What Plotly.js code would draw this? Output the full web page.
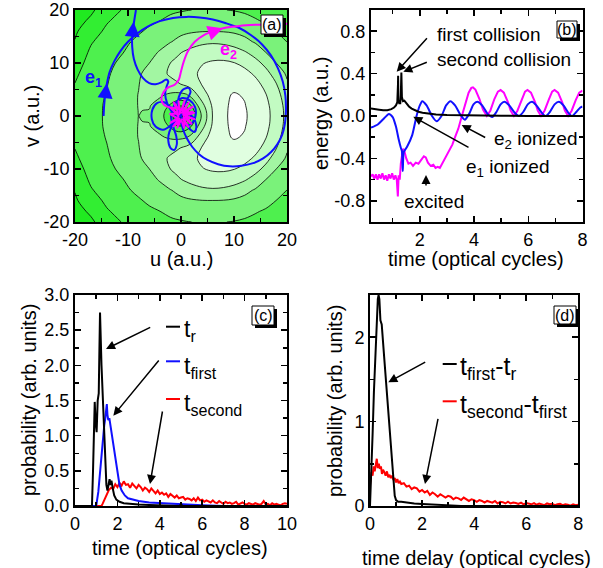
<!DOCTYPE html>
<html><head><meta charset="utf-8">
<script src="https://cdn.plot.ly/plotly-3.0.1.min.js"></script>
<style>html,body{margin:0;padding:0;background:#fff;} #plot{width:603px;height:568px;}</style>
</head><body><div id="plot"></div>
<script>
const FONT = 'Arial, "Liberation Sans", sans-serif';

// ---------- panel (a): potential field (level index) ----------
const uGrid = [-20,-17,-14,-11,-8,-6,-4,-2,-1,0,1,2,4,6,8,10,12,14,16,18,20];
const vHalf = [0,1,2,4,6,8,10,12,14,16,18,20];
const zV0  = [2.15,2.66,3.13,3.70,4.00,3.97,3.50,2.16,-0.06,-3.0,-0.03,2.32,4.16,6.06,6.92,7.12,7.07,6.78,6.28,5.60,4.73];
const zV1  = [2.14,2.65,3.13,3.70,4.01,3.98,3.56,2.42,0.85,-0.04,0.90,2.58,4.33,6.09,6.92,7.11,7.06,6.77,6.27,5.58,4.71];
const zV2  = [2.13,2.64,3.12,3.68,4.02,4.05,3.71,2.88,2.46,2.24,2.54,3.05,4.71,6.18,6.92,7.09,7.03,6.72,6.22,5.53,4.66];
const zV4  = [2.09,2.60,3.05,3.63,4.02,4.28,4.12,3.85,3.77,3.79,3.92,4.35,5.56,6.40,6.88,7.05,6.95,6.56,6.04,5.34,4.47];
const zV6  = [2.02,2.53,2.96,3.54,3.97,4.40,4.64,4.77,4.86,5.01,5.21,5.48,6.06,6.51,6.77,6.81,6.63,6.28,5.74,5.03,4.12];
const zV8  = [1.85,2.43,2.87,3.41,3.88,4.30,4.76,5.11,5.28,5.44,5.62,5.81,6.16,6.42,6.54,6.49,6.27,5.87,5.31,4.56,3.86];
const zV10 = [1.63,2.30,2.75,3.21,3.72,3.99,4.53,5.00,5.19,5.38,5.54,5.70,5.96,6.11,6.14,6.03,5.76,5.33,4.73,3.99,3.63];
const zV12 = [1.36,2.15,2.60,2.97,3.49,3.78,4.06,4.57,4.78,4.98,5.14,5.28,5.49,5.59,5.57,5.41,5.10,4.63,4.00,3.70,3.33];
const zV14 = [1.04,1.92,2.41,2.80,3.19,3.50,3.75,3.96,4.11,4.30,4.47,4.62,4.81,4.88,4.81,4.62,4.26,3.91,3.66,3.35,2.99];
const zV16 = [0.87,1.55,2.19,2.58,2.90,3.14,3.40,3.61,3.70,3.78,3.84,3.89,3.96,3.97,3.95,3.86,3.72,3.52,3.27,2.98,2.77];
const zV18 = [0.70,1.13,1.90,2.34,2.66,2.84,2.99,3.20,3.29,3.36,3.42,3.48,3.54,3.55,3.52,3.42,3.27,3.07,2.90,2.72,2.51];
const zV20 = [0.52,0.86,1.43,2.06,2.39,2.57,2.72,2.84,2.89,2.93,2.97,3.00,3.05,3.06,3.02,2.96,2.87,2.76,2.61,2.43,2.22];

// electron trajectories
const e1U = [-14.6,-14.5,-14.3,-14.0,-13.5,-12.6,-11.4,-10,-8.2,-6.2,-4,-1.5,1,3.5,6,8.5,11,13.3,15.3,17,18.3,19.2,19.7,19.8,19.6,19.1,18.2,17,15.5,13.6,11.4,9.2,7,5,3.4,2.1,1.1,0.4,
  0.0,-0.8,-1.8,-3.2,-4.6,-5.4,-5.5,-4.8,-3.4,-2.0,-0.9,0.2,1.2,1.8,1.4,0.4,-0.4,-0.6,-0.2,0.8,1.8,2.6,2.9,2.4,1.2,-0.3,-1.4,-2.2,-2.4,-2.0,-1.3,-0.8,-0.9,-1.4,-1.8,-1.6,-0.9,0.2,1.6,2.6,2.8,2.2,1.0,-0.4,-1.6,-2.6,-3.0,-2.7,-2.4,-2.8,
  -3.6,-4.8,-6.0,-7.2,-8.2,-8.9,-9.2,-9.2,-8.9,-8.5];
const e1V = [0,2,4,6,8.2,10.3,12.3,14,15.6,16.9,17.9,18.5,18.7,18.6,18.2,17.5,16.6,15.2,13.5,11.4,9,6.5,3.8,1,-1.5,-3.5,-5.3,-6.8,-8,-8.9,-9.4,-9.5,-9.1,-8.3,-7.2,-5.8,-4.2,-2.6,
  -1.2,0.3,1.5,2.6,2.4,1.2,-0.6,-2.0,-2.6,-1.8,-0.4,1.4,3.2,4.6,5.3,5.0,3.6,1.8,0.2,-1.2,-2.6,-3.0,-2.0,-0.4,0.4,0,-1.4,-3.0,-4.6,-6.0,-6.4,-5.4,-3.8,-2.2,-0.6,1.2,2.6,3.4,3.0,1.8,0.4,-1.2,-1.8,-1.0,0.6,2.4,4.2,5.6,6.5,6.9,
  6.4,6.0,6.2,7.2,8.8,10.8,13,15.3,17.5,20];
const e2U = [0.3,2.2,0.4,1.5,0.0,-0.5,-0.3,-2.0,-0.5,-2.0,-0.3,-0.7,0.2,1.4,0.5,2.6,0.5,2.3,0.3,0.7,-0.1,-1.4,-0.6,-2.1,-0.6,-1.5,0.0,0.6,0.7,2.0,1.0,2.5,1.0,
  -0.5,-2.0,-3.2,-3.7,-3.3,-2.4,-1.2,-0.4,0.0,0.5,1.3,2.6,4.4,6.4,8.6,11,14,17,20];
const e2V = [0.1,0.9,0.4,2.6,0.6,2.8,0.3,1.6,-0.1,-1.3,-0.5,-2.2,-0.6,-2.1,-0.2,-0.6,0.3,1.8,0.9,3.0,1.0,2.6,0.5,0.4,-0.6,-2.0,-0.9,-2.3,-0.5,-1.5,0.0,0.6,0.8,
  1.4,1.6,2.1,3.2,4.5,5.4,5.9,6.9,8.4,10.2,12.2,14.0,15.3,16.1,16.7,17.0,17.2,17.3,17.4];

// ---------- panel (b): energies ----------
const tTot = [0.2,0.35,0.5,0.65,0.8,0.95,1.05,1.12,1.17,1.195,1.2,1.21,1.24,1.28,1.3,1.32,1.34,1.38,1.43,1.47,1.52,1.6,1.7,1.8,1.95,2.1,2.3,2.6,3.0,3.5,4.0,5.0,6.0,8.0];
const eTot = [0.07,0.068,0.06,0.055,0.055,0.065,0.08,0.1,0.13,0.3,0.38,0.15,0.12,0.12,0.2,0.41,0.18,0.14,0.145,0.13,0.11,0.09,0.07,0.055,0.04,0.03,0.022,0.015,0.01,0.007,0.005,0.003,0.001,0.0];
const tE1 = [0.2,0.45,0.65,0.86,1.0,1.12,1.22,1.30,1.34,1.37,1.41,1.53,1.72,1.88,2.0,2.09,2.25,2.45,2.62,2.8,2.97,3.13,3.3,3.5,3.66,3.82,3.98,4.12,4.3,4.5,4.67,4.83,4.98,5.12,5.3,5.5,5.66,5.82,5.98,6.14,6.3,6.5,6.64,6.8,6.97,7.13,7.3,7.48,7.62,7.78,7.92,8.0];
const eE1 = [-0.11,-0.08,-0.03,0.02,-0.01,-0.1,-0.22,-0.30,-0.33,-0.52,-0.34,-0.29,-0.18,0.0,0.10,0.14,0.10,0.0,-0.05,0.0,0.10,0.14,0.10,0.01,-0.035,0.02,0.11,0.135,0.10,0.02,-0.01,0.04,0.11,0.135,0.10,0.03,0.0,0.04,0.11,0.135,0.10,0.03,0.0,0.04,0.11,0.135,0.10,0.03,0.0,0.04,0.08,0.09];
const tE2 = [0.2,0.26,0.32,0.38,0.44,0.5,0.56,0.62,0.68,0.74,0.8,0.86,0.92,0.98,1.04,1.1,1.15,1.19,1.22,1.26,1.3,1.34,1.38,1.43,1.5,1.58,1.66,1.75,1.85,1.95,2.05,2.15,2.22,2.3,2.4,2.5,2.58,2.66,2.74,2.82,2.9,3.0,3.1,3.2,3.3,3.42,3.55,3.68,3.8,3.9,3.96,4.05,4.2,4.33,4.47,4.6,4.75,4.88,4.98,5.1,5.25,5.35,5.47,5.6,5.75,5.88,5.97,6.1,6.25,6.35,6.47,6.6,6.75,6.88,6.97,7.1,7.25,7.35,7.47,7.6,7.75,7.88,8.0];
const eE2 = [-0.57,-0.55,-0.59,-0.55,-0.6,-0.55,-0.59,-0.54,-0.6,-0.56,-0.61,-0.55,-0.59,-0.54,-0.6,-0.56,-0.6,-0.76,-0.56,-0.6,-0.45,-0.35,-0.31,-0.33,-0.4,-0.45,-0.44,-0.47,-0.44,-0.45,-0.42,-0.38,-0.39,-0.44,-0.47,-0.46,-0.49,-0.48,-0.49,-0.45,-0.42,-0.37,-0.32,-0.27,-0.2,-0.12,0.0,0.12,0.22,0.265,0.27,0.25,0.16,0.06,0.0,0.05,0.16,0.23,0.245,0.22,0.13,0.05,0.0,0.05,0.15,0.23,0.245,0.22,0.13,0.05,0.0,0.05,0.15,0.23,0.245,0.22,0.13,0.05,0.0,0.05,0.15,0.22,0.24];

// ---------- panel (c): time distributions ----------
const tCr = [0,0.8,0.85,0.9,0.93,0.97,1.02,1.07,1.12,1.15,1.18,1.25,1.3,1.35,1.42,1.48,1.53,1.58,1.63,1.67,1.72,1.78,1.85,1.95,2.1,2.3,2.6,3.0,3.5,4.0,4.5,4.9,5.0,5.1,6,8,10];
const pCr = [0,0,0.5,1.3,1.48,1.2,1.05,1.5,1.6,2.2,2.75,2.0,1.6,1.1,0.55,0.3,0.22,0.33,0.38,0.3,0.36,0.25,0.15,0.09,0.06,0.04,0.03,0.02,0.015,0.01,0.005,0.0,0.02,0.0,0,0,0];
const tCf = [0,1.0,1.1,1.2,1.3,1.38,1.43,1.47,1.5,1.53,1.57,1.62,1.66,1.7,1.74,1.78,1.82,1.87,1.92,1.97,2.03,2.1,2.2,2.35,2.5,2.75,3.0,3.5,4.0,4.5,5.0,5.5,6.0,7,10];
const pCf = [0,0,0.2,0.55,0.95,1.15,1.25,1.38,1.45,1.3,1.22,1.25,1.17,1.05,0.95,0.93,0.85,0.72,0.6,0.5,0.4,0.3,0.22,0.15,0.11,0.09,0.07,0.05,0.04,0.03,0.025,0.015,0.01,0,0];
const tCs = [0,1.25,1.3,1.4,1.5,1.6,1.7,1.8,1.9,2.0,2.1,2.2,2.3,2.4,2.5,2.6,2.7,2.8,2.9,3.0,3.1,3.2,3.3,3.4,3.5,3.6,3.7,3.8,3.9,4.0,4.1,4.2,4.3,4.4,4.5,4.6,4.7,4.8,4.9,5.0,5.1,5.2,5.3,5.4,5.5,5.6,5.7,5.8,5.9,6.0,6.1,6.2,6.3,6.4,6.5,6.6,6.7,6.8,6.9,7.0,7.1,7.2,7.3,7.4,7.5,7.6,7.7,7.8,7.9,8.0,8.1,8.2,8.3,8.4,8.5,8.6,8.7,8.8,8.9,9.0,9.1,9.2,9.3,9.4,9.5,9.6,9.7,9.8,9.9,10.0];
const pCs = [0,0,
  0.03,0.10,0.17,0.23,0.26,0.24,0.31,0.27,0.33,0.29,
  0.35,0.30,0.31,0.26,0.32,0.28,0.25,0.30,0.27,0.22,
  0.26,0.24,0.20,0.25,0.21,0.18,0.22,0.17,0.19,0.16,
  0.18,0.13,0.17,0.14,0.12,0.15,0.11,0.12,0.13,0.09,
  0.11,0.10,0.08,0.11,0.07,0.12,0.08,0.09,0.06,0.08,
  0.06,0.05,0.08,0.05,0.04,0.07,0.05,0.03,0.06,0.04,
  0.05,0.03,0.04,0.06,0.02,0.04,0.05,0.03,0.02,0.04,
  0.03,0.02,0.04,0.03,0.02,0.03,0.07,0.02,0.03,0.01,
  0.04,0.02,0.03,0.02,0.01,0.03,0.04,0.03];

// ---------- panel (d): time-delay distributions ----------
const tDfr = [0,0.05,0.1,0.15,0.2,0.25,0.3,0.33,0.36,0.4,0.45,0.55,0.65,0.75,0.85,0.95,1.0,1.08,1.2,1.4,1.7,2.0,2.5,3.0,3.5,8];
const pDfr = [0,0.35,0.85,1.35,1.8,2.2,2.45,2.5,2.45,2.2,2.15,1.74,1.34,0.93,0.53,0.12,0.07,0.05,0.05,0.04,0.03,0.025,0.015,0.01,0.0,0.0];
const tDsf = [0,0.02,0.06,0.1,0.14,0.18,0.22,0.26,0.3,0.34,0.38,0.42,0.46,0.5,0.55,0.6,0.65,0.7,0.75,0.8,0.85,0.9,0.95,1.0,1.05,1.1,1.15,1.2,1.3,1.4,1.5,1.6,1.7,1.8,1.9,2.0,2.1,2.2,2.3,2.4,2.5,2.6,2.7,2.8,2.9,3.0,3.1,3.2,3.3,3.4,3.5,3.6,3.7,3.8,3.9,4.0,4.1,4.2,4.3,4.4,4.5,4.6,4.7,4.8,4.9,5.0,5.1,5.2,5.3,5.4,5.5,5.6,5.7,5.8,5.9,6.0,6.1,6.2,6.3,6.4,6.5,6.6,6.7,6.8,6.9,7.0,7.1,7.2,7.3,7.4,7.5,7.6,7.7,7.8,7.9,8.0];
const pDsf = [0.25,0.32,0.40,0.36,0.47,0.41,0.52,0.56,0.45,0.50,0.44,0.47,0.38,0.43,0.40,0.36,0.41,0.34,0.37,0.33,0.36,0.31,0.33,0.28,0.32,0.27,0.29,0.26,
  0.27,0.23,0.24,0.20,0.22,0.21,0.17,0.19,0.16,0.18,
  0.13,0.16,0.14,0.11,0.14,0.12,0.10,0.12,0.11,0.08,
  0.10,0.09,0.07,0.10,0.08,0.06,0.08,0.07,0.05,0.07,
  0.06,0.04,0.06,0.05,0.04,0.06,0.03,0.05,0.045,0.03,
  0.05,0.03,0.04,0.035,0.025,0.04,0.02,0.035,0.03,0.02,
  0.035,0.015,0.03,0.02,0.01,0.03,0.02,0.025,0.01,0.02,
  0.025,0.01,0.02,0.015,0.005,0.02,0.01,0.015];

// ---------- ticks ----------
const ticksA = [-20,-10,0,10,20], ticksAText = ['-20','-10','0','10','20'], minorA = [-15,-5,5,15];
const ticksBx = [2,4,6,8], minorBx = [1,3,5,7];
const ticksBy = [-0.8,-0.4,0,0.4,0.8], ticksByText = ['-0.8','-0.4','0.0','0.4','0.8'], minorBy = [-1,-0.6,-0.2,0.2,0.6,1];
const ticksCx = [0,2,4,6,8,10], minorCx = [1,3,5,7,9];
const ticksCy = [0,0.5,1,1.5,2,2.5,3], ticksCyText = ['0.0','0.5','1.0','1.5','2.0','2.5','3.0'], minorCy = [0.25,0.75,1.25,1.75,2.25,2.75];
const ticksDx = [0,2,4,6,8], minorDx = [1,3,5,7];
const ticksDy = [0,1,2], minorDy = [0.5,1.5,2.5];

// build full symmetric grid
const zHalfRows = [zV0,zV1,zV2,zV4,zV6,zV8,zV10,zV12,zV14,zV16,zV18,zV20];
const vFull = [], zFull = [];
for (let i = vHalf.length - 1; i > 0; i--) { vFull.push(-vHalf[i]); zFull.push(zHalfRows[i]); }
for (let i = 0; i < vHalf.length; i++) { vFull.push(vHalf[i]); zFull.push(zHalfRows[i]); }

const W = 603, H = 568;
const P = px => px / W, Q = py => 1 - py / H;

const bandScale = [
  [0.0,'rgb(0,150,0)'],[0.1,'rgb(10,185,10)'],[0.2,'rgb(20,210,20)'],[0.3,'rgb(32,234,32)'],
  [0.4,'rgb(50,238,50)'],[0.5,'rgb(78,240,78)'],[0.6,'rgb(122,242,122)'],[0.7,'rgb(162,246,162)'],
  [0.8,'rgb(194,251,194)'],[0.9,'rgb(224,254,224)'],[1.0,'rgb(255,255,255)']];

const BLUE = '#1010ff', MAG = '#ff00ff', RED = '#ff0000';

const traces = [
  {type:'contour', x:uGrid, y:vFull, z:zFull, xaxis:'x', yaxis:'y', autocontour:false,
   contours:{start:-2, end:7, size:1, coloring:'fill', showlines:true},
   line:{color:'#000', width:0.8, smoothing:1}, colorscale:bandScale, showscale:false, hoverinfo:'skip'},
  {type:'scatter', mode:'lines', x:e1U, y:e1V, xaxis:'x', yaxis:'y', line:{color:BLUE, width:2, shape:'spline', smoothing:0.8}},
  {type:'scatter', mode:'lines', x:e2U, y:e2V, xaxis:'x', yaxis:'y', line:{color:MAG, width:2, shape:'spline', smoothing:0.8}},

  {type:'scatter', mode:'lines', x:tE2, y:eE2, xaxis:'x2', yaxis:'y2', line:{color:MAG, width:2}},
  {type:'scatter', mode:'lines', x:tE1, y:eE1, xaxis:'x2', yaxis:'y2', line:{color:BLUE, width:2, shape:'spline', smoothing:0.6}},
  {type:'scatter', mode:'lines', x:tTot, y:eTot, xaxis:'x2', yaxis:'y2', line:{color:'#000', width:2}},

  {type:'scatter', mode:'lines', x:tCs, y:pCs, xaxis:'x3', yaxis:'y3', line:{color:RED, width:2}},
  {type:'scatter', mode:'lines', x:tCf, y:pCf, xaxis:'x3', yaxis:'y3', line:{color:BLUE, width:2}},
  {type:'scatter', mode:'lines', x:tCr, y:pCr, xaxis:'x3', yaxis:'y3', line:{color:'#000', width:2}},

  {type:'scatter', mode:'lines', x:tDsf, y:pDsf, xaxis:'x4', yaxis:'y4', line:{color:RED, width:2}},
  {type:'scatter', mode:'lines', x:tDfr, y:pDfr, xaxis:'x4', yaxis:'y4', line:{color:'#000', width:2}}
];

function ax(domain, range, tv, tt, minor, anchor) {
  const o = {domain, range, anchor, showline:true, linewidth:2, linecolor:'#000', mirror:'ticks',
    ticks:'inside', ticklen:6, tickwidth:1.5, tickcolor:'#000', showgrid:false, zeroline:false,
    tickmode:'array', tickvals:tv, tickfont:{family:FONT, size:18, color:'#000'},
    minor:{tickmode:'array', tickvals:minor, ticks:'inside', ticklen:4, tickwidth:1.5, tickcolor:'#000', showgrid:false},
    fixedrange:true};
  if (tt) o.ticktext = tt;
  return o;
}

const layout = {
  width:W, height:H, margin:{l:0,r:0,t:0,b:0}, paper_bgcolor:'#fff', plot_bgcolor:'#fff', showlegend:false,
  font:{family:FONT, color:'#000'},
  xaxis: ax([P(75),P(287)], [-20,20], ticksA, ticksAText, minorA, 'y'),
  yaxis: ax([Q(222),Q(10)], [-20,20], ticksA, ticksAText, minorA, 'x'),
  xaxis2: ax([P(371),P(582.5)], [0.2,8], ticksBx, null, minorBx, 'y2'),
  yaxis2: ax([Q(222),Q(10)], [-1,1], ticksBy, ticksByText, minorBy, 'x2'),
  xaxis3: ax([P(75),P(287)], [0,10], ticksCx, null, minorCx, 'y3'),
  yaxis3: ax([Q(506),Q(295)], [0,3], ticksCy, ticksCyText, minorCy, 'x3'),
  xaxis4: ax([P(370),P(578.3)], [0,8], ticksDx, null, minorDx, 'y4'),
  yaxis4: ax([Q(506),Q(295)], [0,2.5], ticksDy, null, minorDy, 'x4'),
  shapes:[], annotations:[]
};

function txt(px, py, text, size, opts) {
  return Object.assign({xref:'paper', yref:'paper', x:P(px), y:Q(py), text, showarrow:false,
    font:{family:FONT, size, color:'#000'}, xanchor:'left', yanchor:'middle'}, opts || {});
}
function arrowPx(hx, hy, tx, ty) {
  return {xref:'paper', yref:'paper', x:P(hx), y:Q(hy), ax:tx-hx, ay:ty-hy, text:'', showarrow:true,
    arrowhead:2, arrowsize:1.2, arrowwidth:1.5, arrowcolor:'#000', standoff:0, startstandoff:0};
}
function arrowData(xr, yr, hx, hy, tx, ty, color) {
  return {xref:xr, yref:yr, axref:xr, ayref:yr, x:hx, y:hy, ax:tx, ay:ty, text:'', showarrow:true,
    arrowhead:2, arrowsize:1.5, arrowwidth:2, arrowcolor:color, standoff:0};
}
function labelBox(x0, y0, x1, y1, label) {
  layout.shapes.push({type:'rect', xref:'paper', yref:'paper', x0:P(x0+3), x1:P(x1+3), y0:Q(y1+3), y1:Q(y0+3), fillcolor:'#000', line:{width:0}});
  layout.shapes.push({type:'rect', xref:'paper', yref:'paper', x0:P(x0), x1:P(x1), y0:Q(y1), y1:Q(y0), fillcolor:'#fff', line:{color:'#000', width:1}});
  layout.annotations.push(txt((x0+x1)/2, (y0+y1)/2, label, 16, {xanchor:'center'}));
}
function legLine(x0, x1, y, color) {
  layout.shapes.push({type:'line', xref:'paper', yref:'paper', x0:P(x0), x1:P(x1), y0:Q(y), y1:Q(y), line:{color, width:2}});
}

// axis titles
const A = layout.annotations;
A.push(txt(181, 259, 'u (a.u.)', 20, {xanchor:'center'}));
A.push(txt(32, 116, 'v (a.u.)', 20, {xanchor:'center', textangle:-90}));
A.push(txt(476, 259, 'time (optical cycles)', 20, {xanchor:'center'}));
A.push(txt(321, 114, 'energy (a.u.)', 20, {xanchor:'center', textangle:-90}));
A.push(txt(180, 548, 'time (optical cycles)', 20, {xanchor:'center'}));
A.push(txt(29, 400, 'probability (arb. units)', 20, {xanchor:'center', textangle:-90}));
A.push(txt(477, 558, 'time delay (optical cycles)', 20, {xanchor:'center'}));
A.push(txt(335, 401, 'probability (arb. units)', 20, {xanchor:'center', textangle:-90}));

// panel a labels / arrows
A.push(txt(83, 79, '<b>e<sub>1</sub></b>', 18, {font:{family:FONT, size:18, color:BLUE}}));
A.push(txt(218, 50, '<b>e<sub>2</sub></b>', 18, {font:{family:FONT, size:18, color:MAG}}));
A.push(arrowData('x','y', -14.0, 6.2, -14.35, 3.2, BLUE));
A.push(arrowData('x','y', -8.95, 17.8, -9.2, 15.0, BLUE));
A.push(arrowData('x','y', 7.9, 16.55, 5.4, 15.7, MAG));

// panel b annotations
A.push(txt(435, 34, 'first collision', 19));
A.push(txt(435, 59, 'second collision', 19));
A.push(txt(492, 140, 'e<sub>2</sub> ionized', 19));
A.push(txt(464, 168, 'e<sub>1</sub> ionized', 19));
A.push(txt(402, 201, 'excited', 19));
A.push(arrowPx(396.7, 71.7, 428.3, 36.7));
A.push(arrowPx(403.3, 71.7, 428.3, 61.7));
A.push(arrowPx(461.7, 125, 486.7, 138.3));
A.push(arrowPx(413.3, 116.7, 470, 148.3));
A.push(arrowPx(426, 175, 426, 187));

// panel c legend
legLine(166, 180, 326.7, '#000');
legLine(166, 180, 361.3, BLUE);
legLine(166, 180, 399, RED);
A.push(txt(182, 330, 't<sub>r</sub>', 23));
A.push(txt(182, 367, 't<sub>first</sub>', 23));
A.push(txt(182, 404, 't<sub>second</sub>', 23));
A.push(arrowPx(106, 349, 151.7, 326.7));
A.push(arrowPx(113.3, 415.7, 160, 359));
A.push(arrowPx(150, 484, 162.7, 410));

// panel d legend
legLine(442.7, 456.7, 364, '#000');
legLine(442.7, 456.7, 401.3, RED);
A.push(txt(458, 368, 't<sub>first</sub>-t<sub>r</sub>', 25));
A.push(txt(458, 406, 't<sub>second</sub>-t<sub>first</sub>', 25));
A.push(arrowPx(388.3, 382.3, 426.7, 361.3));
A.push(arrowPx(425, 484, 438.3, 417.3));

// panel labels
labelBox(261, 15, 283, 34, '(a)');
labelBox(557, 21, 577, 38, '(b)');
labelBox(252, 306, 274, 325, '(c)');
labelBox(554, 306, 576, 324, '(d)');

Plotly.newPlot('plot', traces, layout, {displayModeBar:false, staticPlot:true});
</script></body></html>
